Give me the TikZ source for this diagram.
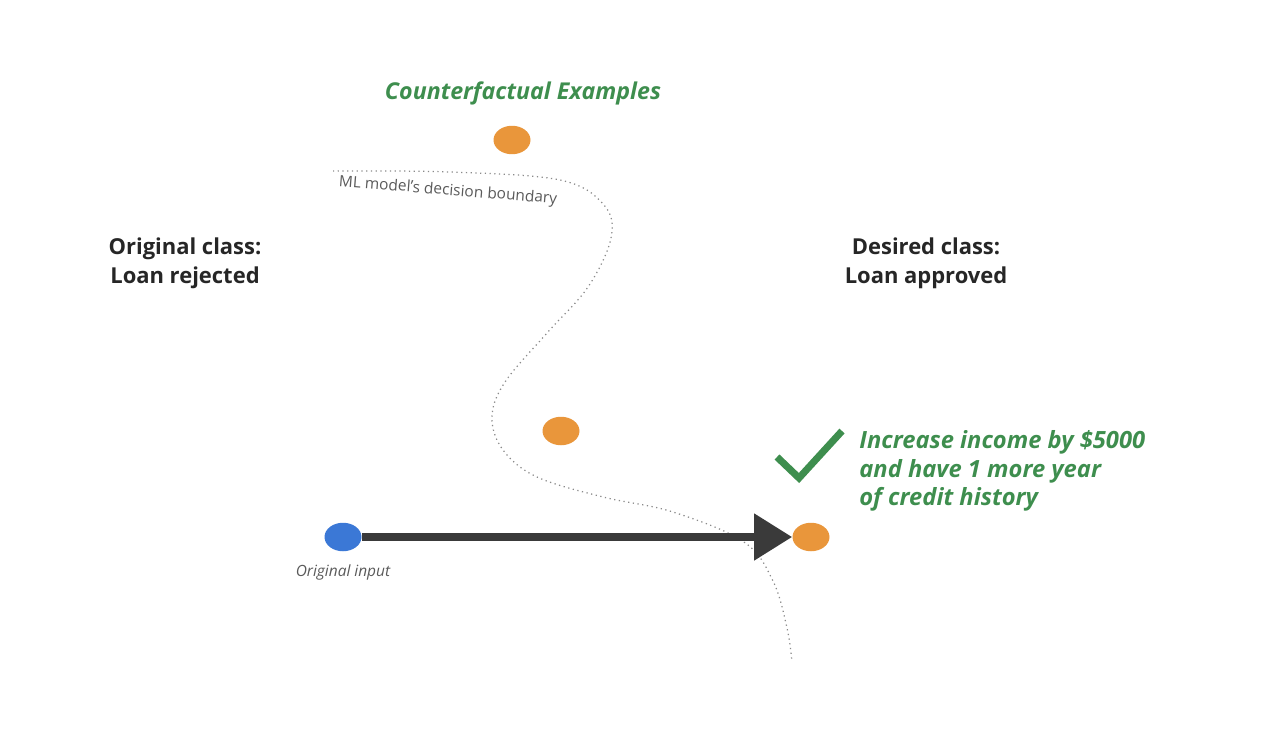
\documentclass[tikz,border=0pt]{standalone}
\usepackage{fontspec}
\setmainfont{Open Sans}
\usepackage{xcolor}
\usepackage{tikz}
\usetikzlibrary{shapes.geometric, arrows.meta, positioning, calc}
\definecolor{ink}{HTML}{262626}
\definecolor{muted}{HTML}{5A5A5A}
\definecolor{bound}{HTML}{8A8A8A}
\definecolor{okgreen}{HTML}{3E8E4E}
\definecolor{cforange}{HTML}{E9963B}
\definecolor{inblue}{HTML}{3B78D6}
\definecolor{shaft}{HTML}{3A3A3A}
\tikzset{
  dot/.style      = {ellipse, minimum width=0.74cm, minimum height=0.57cm, inner sep=0pt},
  cfdot/.style    = {dot, fill=cforange},
  indot/.style    = {dot, fill=inblue},
  classlbl/.style = {font=\fontsize{12.5}{16.4}\selectfont\bfseries, text=ink, align=center, inner sep=0pt},
  greenlbl/.style = {font=\fontsize{13.5}{16.2}\selectfont\bfseries\itshape, text=okgreen, inner sep=0pt},
  smalllbl/.style = {font=\fontsize{8.8}{10}\selectfont, text=muted, inner sep=0pt},
  flow/.style     = {-{Triangle[length=0.76cm, width=0.9cm]}, draw=shaft, line width=4.5pt},
  boundary/.style = {draw=bound, dotted, line width=0.7pt},
  tick/.style     = {draw=okgreen, line width=4pt},
}
\begin{document}
\begin{tikzpicture}[x=0.02cm, y=-0.02cm]
  \useasboundingbox (0,0) rectangle (1280,743);

  % decision boundary
  \draw[boundary] plot[smooth, tension=0.6] coordinates {
    (333,171) (450,172) (560,180) (604,205) (611,238) (588,287) (547,333)
    (505,382) (492,417) (503,450) (537,477) (603,497) (673,512) (744,542)
    (773,581) (787,628) (792,662)};
  \node[smalllbl, rotate=-4.6] (bndlbl) at (448,191) {ML model’s decision boundary};

  % points
  \node[cfdot] (cfa) at (512,140) {};
  \node[cfdot] (cfb) at (561,431) {};
  \node[cfdot] (cfc) at (811,537) {};
  \node[indot] (orig) at (343,537) {};

  \draw[flow] (orig.east) -- (cfc.west);

  \node[greenlbl, font=\fontsize{13.2}{16}\selectfont\bfseries\itshape, anchor=base] (title) at (523,100) {Counterfactual Examples};
  \node[classlbl] (origcls) at (185,263) {Original class:\\Loan rejected};
  \node[classlbl] (wantcls) at (926,263) {Desired class:\\Loan approved};
  \node[smalllbl, font=\fontsize{8.8}{10}\selectfont\itshape, below=0.25cm of orig] (inlbl) {Original input};

  % check mark
  \draw[tick] (777,457) -- (799,478) -- (842,431);
  \node[greenlbl, align=left, anchor=west] (change) at (859,471)
    {Increase income by \$5000\\and have 1 more year\\of credit history};
\end{tikzpicture}
\end{document}
